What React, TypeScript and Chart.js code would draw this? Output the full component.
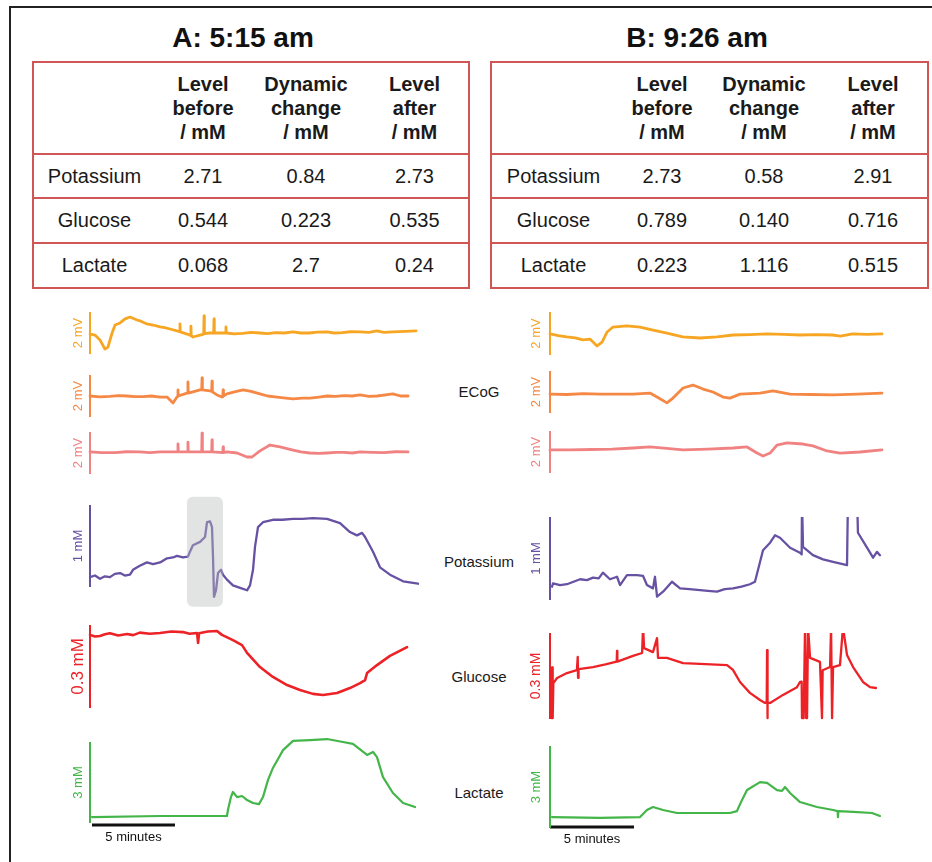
import React, { useEffect, useRef } from 'react';
import { Chart, registerables } from 'chart.js';

Chart.register(...registerables);

// ---------------- DATA ----------------
const panelTitles = ['A: 5:15 am', 'B: 9:26 am'];
const tableHeaders = [['Level', 'before', '/ mM'], ['Dynamic', 'change', '/ mM'], ['Level', 'after', '/ mM']];
const analytes = ['Potassium', 'Glucose', 'Lactate'];
const tableValuesA = [['2.71', '0.84', '2.73'], ['0.544', '0.223', '0.535'], ['0.068', '2.7', '0.24']];
const tableValuesB = [['2.73', '0.58', '2.91'], ['0.789', '0.140', '0.716'], ['0.223', '1.116', '0.515']];
const rowLabels = ['ECoG', 'Potassium', 'Glucose', 'Lactate'];
const scaleLabels = { ecog: '2 mV', k: '1 mM', glu: '0.3 mM', lac: '3 mM', time: '5 minutes' };
const scaleValues = { ecog: 2, k: 1, glu: 0.3, lac: 3, time: 5 };

// traces: [minutes, value]  (ECoG in mV, others in mM)
const ecogA1: number[][] = [[0,0.95],[0.3,0.9],[0.6,0.67],[0.9,0.24],[1.08,0.33],[1.33,1.0],[1.51,1.38],[1.81,1.48],[2.11,1.67],[2.41,1.76],[2.83,1.62],[3.1,1.55],[3.43,1.43],[3.8,1.38],[4.22,1.29],[4.5,1.26],[4.82,1.19],[5.4,1.07],[5.42,1.43],[5.44,1.05],[5.85,0.95],[6.06,0.88],[6.08,1.33],[6.1,0.86],[6.2,0.81],[6.63,0.9],[6.85,0.95],[6.87,1.81],[6.89,0.97],[7.23,1.0],[7.45,1.0],[7.47,1.67],[7.49,1.0],[8.17,1.0],[8.19,1.29],[8.21,1.0],[8.7,0.96],[9.2,0.98],[9.7,1.03],[10.24,1.0],[10.7,0.97],[11.2,1.02],[11.7,1.0],[12.23,1.05],[12.7,1.0],[13.2,1.0],[13.7,1.04],[14.28,1.05],[14.7,1.0],[15.2,1.02],[15.7,1.06],[16.27,1.05],[16.8,1.03],[17.29,1.1],[17.7,1.03],[18.25,1.05],[19.0,1.08],[19.64,1.1]];
const ecogA2: number[][] = [[0,1.0],[0.6,0.96],[1.2,0.98],[1.7,1.02],[2.23,1.0],[2.7,0.97],[3.2,0.97],[3.7,1.0],[4.22,0.95],[4.64,0.95],[4.82,0.81],[5.0,0.67],[5.24,0.95],[5.28,0.98],[5.3,1.29],[5.32,1.0],[5.84,1.14],[5.88,1.14],[5.9,1.67],[5.92,1.14],[6.63,1.29],[6.73,1.29],[6.75,1.86],[6.77,1.29],[7.23,1.24],[7.33,1.22],[7.35,1.71],[7.37,1.2],[7.65,1.05],[7.95,0.95],[8.0,0.97],[8.02,1.29],[8.04,1.0],[8.25,1.1],[8.7,1.2],[9.22,1.29],[9.7,1.22],[10.24,1.1],[10.7,1.0],[11.27,0.95],[11.8,0.9],[12.23,0.86],[12.8,0.9],[13.25,0.9],[13.8,0.95],[14.28,1.0],[14.8,0.98],[15.3,1.02],[15.8,1.0],[16.27,1.05],[16.8,0.98],[17.29,1.0],[17.8,1.05],[18.25,1.1],[18.7,1.0],[19.16,1.0]];
const ecogA3: number[][] = [[0,1.05],[0.7,1.02],[1.5,1.02],[2.2,1.06],[3.0,1.05],[3.6,1.02],[4.22,1.05],[5.28,1.05],[5.3,1.43],[5.32,1.05],[5.88,1.05],[5.9,1.52],[5.92,1.05],[6.73,1.05],[6.75,1.95],[6.77,1.05],[7.33,1.05],[7.35,1.62],[7.37,1.05],[8.0,1.02],[8.02,1.29],[8.04,1.02],[8.25,1.05],[8.86,1.0],[9.46,0.81],[9.76,0.81],[10.24,1.1],[10.84,1.38],[11.45,1.29],[12.23,1.14],[12.7,1.05],[13.25,1.0],[13.8,0.98],[14.28,1.0],[14.8,1.03],[15.3,1.03],[15.8,1.0],[16.27,1.05],[17.0,1.03],[17.7,1.02],[18.4,1.06],[19.16,1.05]];
const potassiumA: number[][] = [[0,0.12],[0.3,0.14],[0.6,0.1],[0.9,0.13],[1.2,0.12],[1.5,0.16],[1.81,0.17],[2.1,0.14],[2.41,0.15],[2.59,0.21],[3.0,0.26],[3.43,0.3],[3.8,0.28],[4.22,0.3],[4.64,0.35],[5.0,0.36],[5.24,0.38],[5.6,0.36],[5.9,0.37],[6.02,0.43],[6.2,0.51],[6.63,0.55],[6.93,0.61],[7.05,0.79],[7.23,0.8],[7.35,0.73],[7.41,0.37],[7.47,-0.12],[7.59,-0.04],[7.71,0.17],[7.89,0.21],[8.01,0.15],[8.25,0.09],[8.61,0.02],[9.04,-0.01],[9.46,-0.04],[9.64,0.02],[9.82,0.21],[9.94,0.49],[10.12,0.73],[10.42,0.79],[11.02,0.82],[11.6,0.82],[12.23,0.83],[12.8,0.83],[13.43,0.84],[14.28,0.83],[15.06,0.78],[15.66,0.67],[16.08,0.63],[16.39,0.66],[16.57,0.61],[17.05,0.43],[17.47,0.24],[18.07,0.15],[18.86,0.07],[19.76,0.04]];
const glucoseA: number[][] = [[0,0.264],[0.3,0.258],[0.6,0.26],[0.9,0.266],[1.2,0.27],[1.7,0.262],[2.23,0.267],[2.6,0.263],[3.0,0.272],[3.6,0.268],[4.22,0.271],[4.9,0.276],[5.6,0.274],[6.0,0.268],[6.45,0.271],[6.51,0.235],[6.57,0.27],[7.1,0.276],[7.65,0.278],[7.95,0.264],[8.61,0.245],[9.16,0.227],[9.46,0.199],[10.24,0.148],[11.02,0.112],[11.87,0.083],[12.65,0.065],[13.43,0.051],[14.04,0.047],[14.88,0.054],[15.66,0.072],[16.27,0.09],[16.57,0.101],[16.69,0.126],[17.29,0.155],[18.07,0.188],[19.1,0.22]];
const lactateA: number[][] = [[0.12,0.22],[4.22,0.26],[8.25,0.26],[8.31,0.48],[8.49,0.96],[8.61,1.15],[8.86,0.96],[9.16,1.0],[9.46,0.85],[9.82,0.74],[10.18,0.7],[10.42,0.96],[10.72,1.59],[11.02,2.04],[11.63,2.7],[12.23,3.04],[13.25,3.07],[14.28,3.11],[15.24,3.0],[15.84,2.93],[16.69,2.52],[17.05,2.63],[17.29,2.44],[17.65,1.7],[18.25,1.11],[18.86,0.74],[19.58,0.59]];

const ecogB1: number[][] = [[0,0.98],[0.5,0.9],[1.0,0.84],[1.5,0.8],[1.96,0.7],[2.38,0.74],[2.8,0.42],[3.1,0.6],[3.4,1.07],[3.75,1.3],[4.58,1.35],[5.36,1.3],[6.13,1.16],[6.96,1.02],[7.9,0.84],[8.93,0.79],[9.94,0.84],[10.9,0.93],[11.9,0.95],[12.9,0.98],[13.9,0.96],[14.9,0.93],[15.9,0.95],[16.8,0.93],[17.3,0.88],[18.0,0.98],[18.9,0.96],[19.76,0.98]];
const ecogB2: number[][] = [[0,0.9],[1.0,0.88],[2.0,0.92],[2.98,0.9],[4.0,0.9],[4.94,0.9],[5.95,0.95],[6.37,0.76],[6.96,0.48],[7.32,0.71],[7.92,1.19],[8.51,1.33],[9.11,1.14],[9.7,1.0],[10.3,0.76],[10.71,0.71],[11.31,0.9],[12.5,0.95],[13.27,1.05],[14.29,0.9],[15.5,0.88],[16.85,0.86],[18.3,0.9],[19.76,0.95]];
const ecogB3: number[][] = [[0,1.1],[1.2,1.1],[2.5,1.12],[3.7,1.14],[4.94,1.19],[5.95,1.24],[7.92,1.1],[9.4,1.14],[10.89,1.19],[11.73,1.24],[12.32,0.95],[12.68,0.81],[13.1,0.95],[13.51,1.33],[14.11,1.43],[15.06,1.38],[15.65,1.29],[16.49,1.05],[17.26,0.95],[18.45,1.0],[19.76,1.1]];
const potassiumB: number[][] = [[0.12,0.16],[0.18,0.2],[0.6,0.18],[1.01,0.19],[1.4,0.22],[1.79,0.25],[2.2,0.24],[2.56,0.27],[2.9,0.26],[3.15,0.33],[3.57,0.25],[3.99,0.28],[4.17,0.18],[4.58,0.3],[5.18,0.3],[5.54,0.29],[5.77,0.18],[6.13,0.14],[6.25,0.28],[6.37,0.04],[6.73,0.1],[7.26,0.22],[7.74,0.14],[8.3,0.13],[8.93,0.12],[9.4,0.11],[9.94,0.1],[10.4,0.13],[10.89,0.14],[11.4,0.16],[11.9,0.19],[12.2,0.22],[12.68,0.6],[13.1,0.69],[13.39,0.78],[13.69,0.75],[14.29,0.63],[14.88,0.57],[14.98,0.55],[15.0,1.2],[15.06,0.64],[15.65,0.54],[16.25,0.49],[16.85,0.46],[17.68,0.42],[17.74,1.3],[18.27,1.3],[18.33,0.81],[18.87,0.63],[19.23,0.51],[19.46,0.58],[19.64,0.54]];
const glucoseB: number[][] = [[0.1,0.003],[0.12,0.18],[0.16,0.003],[0.2,0.125],[0.42,0.143],[1.01,0.16],[1.6,0.17],[1.65,0.216],[1.67,0.143],[1.7,0.174],[2.56,0.181],[3.3,0.19],[3.97,0.2],[3.99,0.237],[4.01,0.2],[4.94,0.22],[5.48,0.23],[5.54,0.32],[5.6,0.247],[6.13,0.233],[6.37,0.282],[6.43,0.213],[6.96,0.213],[7.92,0.195],[8.93,0.192],[10.54,0.188],[10.89,0.171],[11.31,0.129],[11.9,0.091],[12.5,0.066],[12.8,0.056],[12.9,0.06],[12.92,0.24],[12.94,0.003],[12.96,0.056],[13.1,0.056],[13.87,0.084],[14.7,0.111],[14.88,0.129],[14.98,0.13],[15.0,0.003],[15.1,0.003],[15.18,0.32],[15.25,0.003],[15.3,0.003],[15.36,0.32],[15.48,0.213],[16.07,0.199],[16.19,0.003],[16.23,0.17],[16.67,0.181],[16.73,0.32],[16.79,0.003],[16.85,0.181],[17.26,0.188],[17.44,0.32],[17.68,0.223],[18.04,0.181],[18.63,0.129],[19.05,0.111],[19.4,0.108]];
const lactateB: number[][] = [[0.12,0.4],[2.98,0.37],[5.36,0.4],[5.77,0.66],[6.13,0.77],[6.73,0.66],[7.56,0.55],[8.93,0.55],[10.71,0.55],[11.13,0.62],[11.43,1.03],[11.73,1.39],[12.5,1.68],[12.92,1.65],[13.51,1.39],[13.81,1.36],[13.99,1.5],[14.29,1.28],[14.88,0.95],[15.89,0.77],[16.85,0.66],[17.12,0.62],[17.14,0.4],[17.16,0.62],[18.04,0.59],[19.17,0.55],[19.64,0.44]];

// highlighted episode in panel A potassium: [t0, t1, v0, v1]
const highlightA = [5.84, 8.01, -0.24, 1.1];

// ---------------- STYLE / LAYOUT ----------------
const FONT = "'Liberation Sans', Arial, Helvetica, sans-serif";
const COLORS = { ecog1: '#f6a623', ecog2: '#f58845', ecog3: '#f08282', k: '#6651a3', glu: '#ec2227', lac: '#43b549' };
const TABLE_RED = '#d05555';

type Col = { x0: number; k: number; left: number; width: number; labelOffset: number };
const colA: Col = { x0: 90, k: 16.6, left: 55, width: 375, labelOffset: 12 };
const colB: Col = { x0: 550, k: 16.8, left: 512, width: 383, labelOffset: 14 };

type Spec = {
  data: number[][]; color: string; lw: number; bar: number; label: string; labelSize: number;
  top: number; bottom: number; barBottom: number; ppu: number;
  highlight?: number[]; timeBar?: { start: number; level: number };
};

const specsA: Spec[] = [
  { data: ecogA1, color: COLORS.ecog1, lw: 2.8, bar: scaleValues.ecog, label: scaleLabels.ecog, labelSize: 13, top: 300, bottom: 362, barBottom: 354, ppu: 21 },
  { data: ecogA2, color: COLORS.ecog2, lw: 2.8, bar: scaleValues.ecog, label: scaleLabels.ecog, labelSize: 13, top: 365, bottom: 425, barBottom: 417, ppu: 21 },
  { data: ecogA3, color: COLORS.ecog3, lw: 2.8, bar: scaleValues.ecog, label: scaleLabels.ecog, labelSize: 13, top: 426, bottom: 482, barBottom: 474, ppu: 21 },
  { data: potassiumA, color: COLORS.k, lw: 2.3, bar: scaleValues.k, label: scaleLabels.k, labelSize: 13, top: 490, bottom: 615, barBottom: 587, ppu: 82, highlight: highlightA },
  { data: glucoseA, color: COLORS.glu, lw: 2.6, bar: scaleValues.glu, label: scaleLabels.glu, labelSize: 17, top: 615, bottom: 715, barBottom: 708, ppu: 277 },
  { data: lactateA, color: COLORS.lac, lw: 2.2, bar: scaleValues.lac, label: scaleLabels.lac, labelSize: 13, top: 730, bottom: 855, barBottom: 823, ppu: 27, timeBar: { start: 0.12, level: -0.07 } },
];
const specsB: Spec[] = [
  { data: ecogB1, color: COLORS.ecog1, lw: 2.8, bar: scaleValues.ecog, label: scaleLabels.ecog, labelSize: 13, top: 300, bottom: 363, barBottom: 355, ppu: 21.5 },
  { data: ecogB2, color: COLORS.ecog2, lw: 2.8, bar: scaleValues.ecog, label: scaleLabels.ecog, labelSize: 13, top: 364, bottom: 421, barBottom: 413, ppu: 21 },
  { data: ecogB3, color: COLORS.ecog3, lw: 2.8, bar: scaleValues.ecog, label: scaleLabels.ecog, labelSize: 13, top: 424, bottom: 481, barBottom: 473, ppu: 21 },
  { data: potassiumB, color: COLORS.k, lw: 2.3, bar: scaleValues.k, label: scaleLabels.k, labelSize: 13, top: 517, bottom: 610, barBottom: 600, ppu: 83 },
  { data: glucoseB, color: COLORS.glu, lw: 2.3, bar: scaleValues.glu, label: scaleLabels.glu, labelSize: 14, top: 633, bottom: 725, barBottom: 719, ppu: 287 },
  { data: lactateB, color: COLORS.lac, lw: 2.2, bar: scaleValues.lac, label: scaleLabels.lac, labelSize: 13, top: 735, bottom: 855, barBottom: 828, ppu: 27.3, timeBar: { start: 0, level: 0.04 } },
];

const rowLabelPos = [392, 562, 677, 793];

function Trace({ spec, col }: { spec: Spec; col: Col }) {
  const ref = useRef<HTMLCanvasElement>(null);
  const h = spec.bottom - spec.top;
  useEffect(() => {
    if (!ref.current) return;
    const xMin = (col.left - col.x0) / col.k;
    const xMax = (col.left + col.width - col.x0) / col.k;
    const yMax = (spec.barBottom - spec.top) / spec.ppu;
    const yMin = (spec.barBottom - spec.bottom) / spec.ppu;
    const datasets: any[] = [
      {
        data: spec.data.map(([x, y]) => ({ x, y })),
        borderColor: spec.color, borderWidth: spec.lw, pointRadius: 0, tension: 0,
        borderJoinStyle: 'round', borderCapStyle: 'round', fill: false,
      },
      {
        data: [{ x: 0, y: 0 }, { x: 0, y: spec.bar }],
        borderColor: spec.color, borderWidth: 2, pointRadius: 0, fill: false,
      },
    ];
    if (spec.timeBar) {
      datasets.push({
        data: [{ x: spec.timeBar.start, y: spec.timeBar.level }, { x: spec.timeBar.start + scaleValues.time, y: spec.timeBar.level }],
        borderColor: '#111', borderWidth: 3, pointRadius: 0, fill: false, clip: false,
      });
    }
    const decor = {
      id: 'decor',
      afterDatasetsDraw(chart: any) {
        const ctx = chart.ctx;
        const xs = chart.scales.x, ys = chart.scales.y;
        if (spec.highlight) {
          const [t0, t1, v0, v1] = spec.highlight;
          const x0 = xs.getPixelForValue(t0), x1 = xs.getPixelForValue(t1);
          const y0 = ys.getPixelForValue(v1), y1 = ys.getPixelForValue(v0);
          ctx.save();
          ctx.fillStyle = 'rgba(185,188,188,0.42)';
          ctx.beginPath();
          (ctx as any).roundRect(x0, y0, x1 - x0, y1 - y0, 6);
          ctx.fill();
          ctx.restore();
        }
        ctx.save();
        const bx = xs.getPixelForValue(0) - col.labelOffset;
        const by = (ys.getPixelForValue(0) + ys.getPixelForValue(spec.bar)) / 2;
        ctx.translate(bx, by);
        ctx.rotate(-Math.PI / 2);
        ctx.fillStyle = spec.color;
        ctx.font = `${spec.labelSize}px ${FONT}`;
        ctx.textAlign = 'center';
        ctx.textBaseline = 'middle';
        ctx.fillText(spec.label, 0, 0);
        ctx.restore();
        if (spec.timeBar) {
          const cx = (xs.getPixelForValue(spec.timeBar.start) + xs.getPixelForValue(spec.timeBar.start + scaleValues.time)) / 2;
          const cy = ys.getPixelForValue(spec.timeBar.level) + 13;
          ctx.save();
          ctx.fillStyle = '#111';
          ctx.font = `13px ${FONT}`;
          ctx.textAlign = 'center';
          ctx.textBaseline = 'middle';
          ctx.fillText(scaleLabels.time, cx, cy);
          ctx.restore();
        }
      },
    };
    const chart = new Chart(ref.current, {
      type: 'line',
      data: { datasets },
      options: {
        responsive: false, animation: false, devicePixelRatio: 1, events: [],
        layout: { padding: 0 },
        plugins: { legend: { display: false }, tooltip: { enabled: false } },
        scales: {
          x: { type: 'linear', display: false, min: xMin, max: xMax },
          y: { type: 'linear', display: false, min: yMin, max: yMax },
        },
      } as any,
      plugins: [decor],
    });
    return () => chart.destroy();
  }, []);
  return <canvas ref={ref} width={col.width} height={h} style={{ position: 'absolute', left: col.left, top: spec.top }} />;
}

function DataTable({ left, widths, values }: { left: number; widths: number[]; values: string[][] }) {
  const line = `2px solid ${TABLE_RED}`;
  const cell: React.CSSProperties = { borderTop: line, borderBottom: line, borderLeft: 'none', borderRight: 'none', textAlign: 'center', verticalAlign: 'middle', padding: 0 };
  return (
    <table style={{ position: 'absolute', left, top: 61, width: widths.reduce((a, b) => a + b, 0), height: 226, borderCollapse: 'collapse', tableLayout: 'fixed', fontFamily: FONT, fontSize: 20, color: '#1a1a1a', border: line }}>
      <colgroup>{widths.map((w, i) => <col key={i} style={{ width: w }} />)}</colgroup>
      <tbody>
        <tr style={{ height: 92 }}>
          <td style={cell}></td>
          {tableHeaders.map((hd, i) => (
            <td key={i} style={{ ...cell, fontWeight: 'bold', lineHeight: '24px' }}>{hd.map((l, j) => <div key={j}>{l}</div>)}</td>
          ))}
        </tr>
        {analytes.map((a, r) => (
          <tr key={a} style={{ height: r === 0 ? 44 : 45 }}>
            <td style={cell}>{a}</td>
            {values[r].map((v, i) => <td key={i} style={cell}>{v}</td>)}
          </tr>
        ))}
      </tbody>
    </table>
  );
}

export default function App() {
  return (
    <div style={{ position: 'absolute', left: 0, top: 0, width: 932, height: 862, overflow: 'hidden', background: '#fff', fontFamily: FONT }}>
      <div style={{ position: 'absolute', left: 9, top: 6, width: 1000, height: 1000, borderLeft: '2px solid #222', borderTop: '2px solid #222' }} />
      <div style={{ position: 'absolute', left: 93, width: 300, top: 22, textAlign: 'center', fontSize: 28, fontWeight: 'bold', lineHeight: '32px', color: '#111' }}>{panelTitles[0]}</div>
      <div style={{ position: 'absolute', left: 547, width: 300, top: 22, textAlign: 'center', fontSize: 28, fontWeight: 'bold', lineHeight: '32px', color: '#111' }}>{panelTitles[1]}</div>
      <DataTable left={32} widths={[122, 96, 110, 108]} values={tableValuesA} />
      <DataTable left={490} widths={[124, 94, 110, 109]} values={tableValuesB} />
      {rowLabels.map((l, i) => (
        <div key={l} style={{ position: 'absolute', left: 379, width: 200, top: rowLabelPos[i] - 10, lineHeight: '20px', textAlign: 'center', fontSize: 15, color: '#1a1a1a' }}>{l}</div>
      ))}
      {specsA.map((s, i) => <Trace key={'a' + i} spec={s} col={colA} />)}
      {specsB.map((s, i) => <Trace key={'b' + i} spec={s} col={colB} />)}
    </div>
  );
}
